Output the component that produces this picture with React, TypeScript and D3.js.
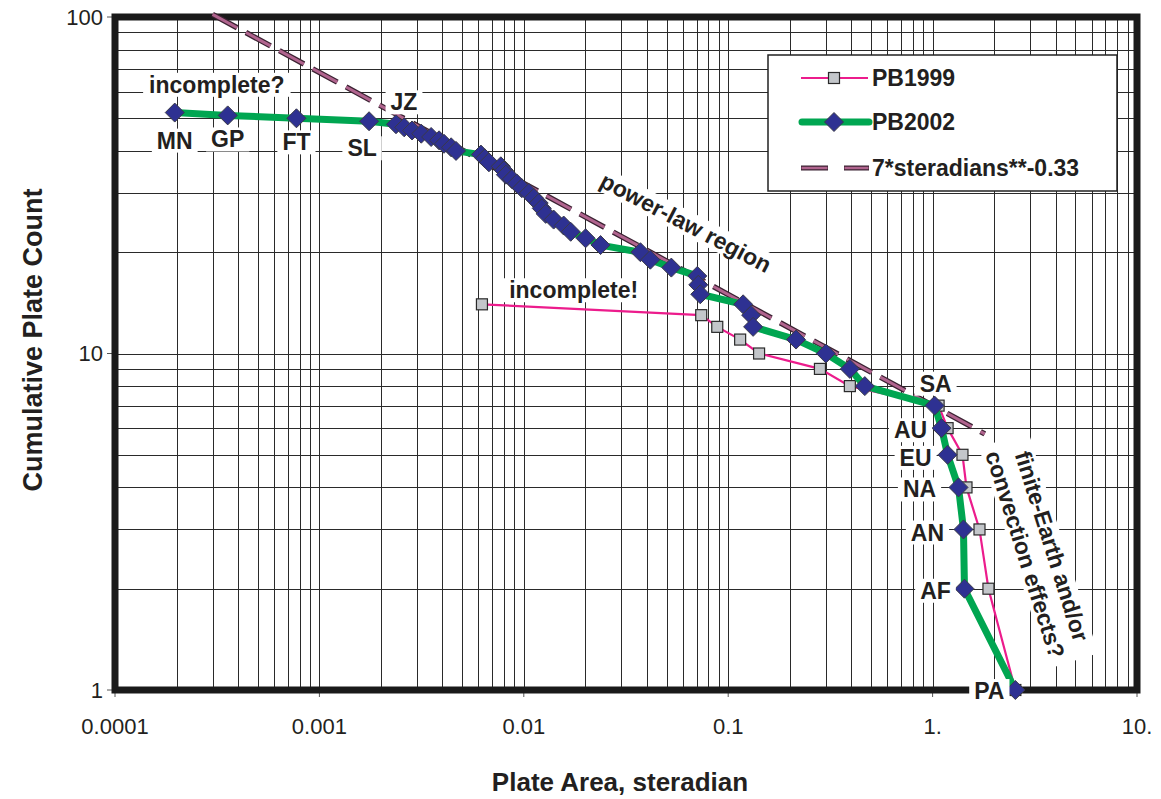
import React, { useEffect, useRef } from "react";
import * as d3 from "d3";

// PB2002 model: cumulative plate count vs plate area (steradian)
const pb2002Count = [
  52, 51, 50, 49, 48, 47, 46, 45, 44, 43, 42, 41, 40, 39, 38, 37, 36, 35, 34, 33, 32, 31, 30, 29, 28, 27,
  26, 25, 24, 23, 22, 21, 20, 19, 18, 17, 16, 15, 14, 13, 12, 11, 10, 9, 8, 7, 6, 5, 4, 3, 2, 1,
];
const pb2002Area = [
  0.000196, 0.000356, 0.000772, 0.00175, 0.00237, 0.0026, 0.00284, 0.00315, 0.00352, 0.00385, 0.00407,
  0.00441, 0.00466, 0.00617, 0.00645, 0.00675, 0.00772, 0.00799, 0.00817, 0.00874, 0.00924, 0.00978,
  0.01058, 0.01119, 0.01183, 0.01224, 0.0128, 0.014, 0.01567, 0.01696, 0.02006, 0.02374, 0.0372, 0.0416,
  0.0527, 0.0706, 0.0714, 0.073, 0.1183, 0.1295, 0.1324, 0.2147, 0.3006, 0.3937, 0.466, 1.023, 1.106,
  1.184, 1.339, 1.416, 1.432, 2.54,
];

// PB1999 model
const pb1999Count = [14, 13, 12, 11, 10, 9, 8, 7, 6, 5, 4, 3, 2, 1];
const pb1999Area = [0.00624, 0.0738, 0.0884, 0.1144, 0.1416, 0.2811, 0.3937, 1.07, 1.184, 1.4, 1.465, 1.696, 1.876, 2.54];

// 7*steradians**-0.33, end points
const powerArea = [0.0003, 1.8];
const powerCount = [101.8, 5.77];

const plateNames = ["MN", "GP", "FT", "SL", "JZ", "SA", "AU", "EU", "NA", "AN", "AF", "PA"];
const plateCounts = [52, 51, 50, 49, 48, 7, 6, 5, 4, 3, 2, 1];

const xTickValues = [0.0001, 0.001, 0.01, 0.1, 1, 10];
const xTickLabels = ["0.0001", "0.001", "0.01", "0.1", "1.", "10."];
const yTickValues = [1, 10, 100];
const yTickLabels = ["1", "10", "100"];

const W = 1161;
const H = 799;
const left = 115, right = 1137, top = 17, bottom = 690;
const font = "'Liberation Sans', Arial, Helvetica, sans-serif";
const ink = "#231f20";

// label offsets from the plotted point, px
const plateOffset: Record<string, [number, number]> = {
  MN: [0, 28], GP: [0, 24], FT: [0, 24], SL: [-7, 27], JZ: [8, -22],
  SA: [1, -22], AU: [-31, 2], EU: [-32, 3], NA: [-39, 2], AN: [-36, 3], AF: [-29, 2], PA: [-26, 1],
};

export default function App() {
  const ref = useRef<SVGSVGElement>(null);

  useEffect(() => {
    const svg = d3.select(ref.current);
    svg.selectAll("*").remove();

    const x = d3.scaleLog().domain([1e-4, 10]).range([left, right]);
    const y = d3.scaleLog().domain([1, 100]).range([bottom, top]);

    svg.append("rect").attr("width", W).attr("height", H).attr("fill", "#fff");

    // grid
    const grid = svg.append("g").attr("stroke", "#2a2a2a").attr("stroke-width", 1);
    grid.selectAll("line.v").data(x.ticks()).join("line").attr("class", "v")
      .attr("x1", d => Math.round(x(d)) + 0.5).attr("x2", d => Math.round(x(d)) + 0.5)
      .attr("y1", top).attr("y2", bottom);
    grid.selectAll("line.h").data(y.ticks()).join("line").attr("class", "h")
      .attr("y1", d => Math.round(y(d)) + 0.5).attr("y2", d => Math.round(y(d)) + 0.5)
      .attr("x1", left).attr("x2", right);

    // ticks
    const ticks = svg.append("g").attr("stroke", "#555").attr("stroke-width", 1);
    ticks.selectAll("line.y").data(yTickValues).join("line").attr("class", "y")
      .attr("x1", left - 8).attr("x2", left).attr("y1", d => y(d)).attr("y2", d => y(d));
    ticks.selectAll("line.x").data(xTickValues).join("line").attr("class", "x")
      .attr("x1", d => x(d)).attr("x2", d => x(d)).attr("y1", bottom).attr("y2", bottom + 7);

    // frame
    svg.append("rect").attr("x", left).attr("y", top).attr("width", right - left).attr("height", bottom - top)
      .attr("fill", "none").attr("stroke", "#1a1a1a").attr("stroke-width", 7);

    // tick labels
    svg.append("g").selectAll("text").data(yTickValues).join("text")
      .attr("x", 103).attr("y", d => y(d)).attr("dy", "0.35em").attr("text-anchor", "end")
      .attr("font-family", font).attr("font-size", 22).attr("fill", ink)
      .text((d, i) => yTickLabels[i]);
    svg.append("g").selectAll("text").data(xTickValues).join("text")
      .attr("x", d => x(d)).attr("y", 726).attr("dy", "0.35em").attr("text-anchor", "middle")
      .attr("font-family", font).attr("font-size", 22).attr("fill", ink)
      .text((d, i) => xTickLabels[i]);

    // axis titles
    svg.append("text").attr("x", 620).attr("y", 782).attr("dy", "0.35em").attr("text-anchor", "middle")
      .attr("font-family", font).attr("font-size", 26).attr("font-weight", "bold").attr("fill", ink)
      .text("Plate Area, steradian");
    svg.append("text").attr("transform", "translate(33,340) rotate(-90)").attr("dy", "0.35em")
      .attr("text-anchor", "middle").attr("font-family", font).attr("font-size", 27)
      .attr("font-weight", "bold").attr("fill", ink).text("Cumulative Plate Count");

    // power law dashed line
    const pl = d3.line<number>().x(d => x(d)).y((d, i) => y(powerCount[i]));
    svg.append("path").attr("d", pl(powerArea)).attr("fill", "none")
      .attr("stroke", "#3b2232").attr("stroke-width", 5.5).attr("stroke-dasharray", "28 10");
    svg.append("path").attr("d", pl(powerArea)).attr("fill", "none")
      .attr("stroke", "#b0648e").attr("stroke-width", 3).attr("stroke-dasharray", "28 10");

    // PB1999
    const l99 = d3.line<number>().x(d => x(d)).y((d, i) => y(pb1999Count[i]));
    svg.append("path").attr("d", l99(pb1999Area)).attr("fill", "none")
      .attr("stroke", "#ec1c8c").attr("stroke-width", 2.2);
    svg.append("g").selectAll("rect").data(pb1999Area).join("rect")
      .attr("x", d => x(d) - 5.5).attr("y", (d, i) => y(pb1999Count[i]) - 5.5)
      .attr("width", 11).attr("height", 11).attr("fill", "#c3c6ca").attr("stroke", "#2a2a2a").attr("stroke-width", 1.2);

    // PB2002
    const l02 = d3.line<number>().x(d => x(d)).y((d, i) => y(pb2002Count[i]));
    svg.append("path").attr("d", l02(pb2002Area)).attr("fill", "none")
      .attr("stroke", "#00a651").attr("stroke-width", 7).attr("stroke-linejoin", "round");
    const diamond = "M0,-9.5L9.5,0L0,9.5L-9.5,0Z";
    svg.append("g").selectAll("path").data(pb2002Area).join("path")
      .attr("d", diamond)
      .attr("transform", (d, i) => `translate(${x(d)},${y(pb2002Count[i])})`)
      .attr("fill", "#2e3192").attr("stroke", "#3a3a48").attr("stroke-width", 1);

    // labels with white knock-out
    const label = (lines: string[], cx: number, cy: number, angle: number, lineH: number, padX: number) => {
      const g = svg.append("g").attr("transform", `translate(${cx},${cy}) rotate(${angle})`);
      const bg = g.append("rect").attr("fill", "#fff");
      const t = g.append("g");
      lines.forEach((s, i) => {
        t.append("text").attr("y", (i - (lines.length - 1) / 2) * lineH).attr("dy", "0.35em")
          .attr("text-anchor", "middle").attr("font-family", font).attr("font-size", 23)
          .attr("font-weight", "bold").attr("fill", ink).text(s);
      });
      const b = (t.node() as SVGGElement).getBBox();
      bg.attr("x", b.x - padX).attr("y", b.y + 1).attr("width", b.width + 2 * padX).attr("height", b.height - 2);
    };

    plateNames.forEach((name, k) => {
      const i = pb2002Count.indexOf(plateCounts[k]);
      const [dx, dy] = plateOffset[name];
      label([name], x(pb2002Area[i]) + dx, y(pb2002Count[i]) + dy, 0, 0, 5);
    });

    label(["incomplete?"], x(0.000315), y(62.9), 0, 0, 6);
    label(["incomplete!"], x(0.01754), y(15.42), 0, 0, 6);
    label(["power-law region"], x(0.062), y(24.5), 27.5, 0, 6);
    label(["finite-Earth and/or", "convection effects?"], x(3.3), y(2.6), 72.5, 28, 8);

    // legend
    const lg = svg.append("g");
    lg.append("rect").attr("x", 768).attr("y", 55).attr("width", 349).attr("height", 136)
      .attr("fill", "#fff").attr("stroke", "#222").attr("stroke-width", 1.5);
    const lx1 = 801, lx2 = 868, lmid = 834;
    lg.append("line").attr("x1", lx1).attr("x2", lx2).attr("y1", 78).attr("y2", 78)
      .attr("stroke", "#ec1c8c").attr("stroke-width", 2.2);
    lg.append("rect").attr("x", lmid - 5.5).attr("y", 72.5).attr("width", 11).attr("height", 11)
      .attr("fill", "#c3c6ca").attr("stroke", "#2a2a2a").attr("stroke-width", 1.2);
    lg.append("line").attr("x1", lx1 + 1).attr("x2", lx2 + 1).attr("y1", 122).attr("y2", 122)
      .attr("stroke", "#00a651").attr("stroke-width", 7).attr("stroke-linecap", "round");
    lg.append("path").attr("d", diamond).attr("transform", `translate(${lmid},122)`)
      .attr("fill", "#2e3192").attr("stroke", "#3a3a48");
    lg.append("line").attr("x1", lx1).attr("x2", lx2 + 1).attr("y1", 168).attr("y2", 168)
      .attr("stroke", "#3b2232").attr("stroke-width", 5).attr("stroke-dasharray", "27 16");
    lg.append("line").attr("x1", lx1 + 0.5).attr("x2", lx2 + 0.5).attr("y1", 168).attr("y2", 168)
      .attr("stroke", "#b0648e").attr("stroke-width", 2.5).attr("stroke-dasharray", "26 17");
    const legendText = ["PB1999", "PB2002", "7*steradians**-0.33"];
    const legendY = [78, 122, 168];
    lg.selectAll("text").data(legendText).join("text")
      .attr("x", 872).attr("y", (d, i) => legendY[i]).attr("dy", "0.35em")
      .attr("font-family", font).attr("font-size", 23).attr("font-weight", "bold").attr("fill", ink)
      .text(d => d);
  }, []);

  return (
    <svg ref={ref} width={W} height={H} style={{ position: "absolute", left: 0, top: 0, display: "block" }} />
  );
}
